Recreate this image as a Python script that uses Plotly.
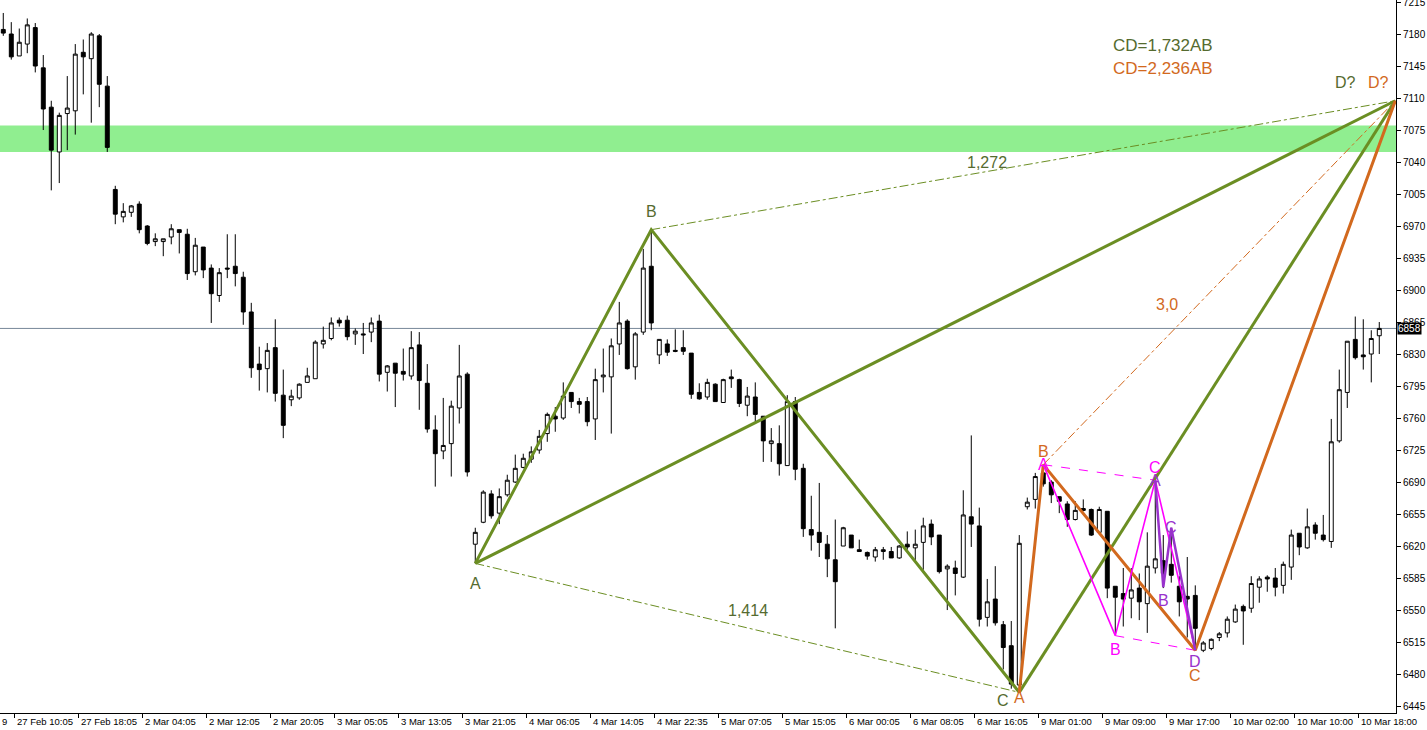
import plotly.graph_objects as go

# ---------------- data ----------------
opens = [7185,7180,7156,7169,7187,7143,7100,7051,7093,7096,7160,7153,7178,7123,7010,6980,6985,6994,6970,6953,
         6953,6958,6966,6961,6920,6947,6924,6894,6924,6926,6914,6876,6819,6814,6837,6785,6780,6782,6799,6803,
         6841,6847,6867,6867,6852,6852,6854,6866,6810,6820,6811,6806,6840,6798,6747,6724,6732,6771,6808,6622,
         6646,6677,6656,6676,6690,6706,6715,6725,6743,6762,6760,6788,6778,6778,6759,6805,6805,6841,6866,6816,
         6854,6926,6829,6841,6834,6837,6831,6788,6783,6797,6777,6805,6802,6774,6783,6762,6732,6732,6708,6778,
         6705,6638,6635,6622,6605,6620,6632,6616,6613,6608,6614,6614,6607,6622,6618,6624,6644,6632,6595,6596,
         6586,6652,6642,6542,6562,6534,6511,6468,6663,6671,6700,6690,6674,6666,6649,6661,6660,6635,6658,6576,
         6568,6563,6574,6557,6596,6604,6600,6576,6565,6566,6506,6508,6520,6525,6537,6554,6552,6575,6586,6585,
         6577,6597,6634,6618,6643,6632,6625,6735,6788,6846,6829,6830,6850]
highs = [7203,7193,7186,7197,7192,7157,7107,7094,7134,7169,7174,7182,7180,7134,7014,6995,6993,6997,6971,6962,
         6956,6972,6966,6967,6957,6947,6928,6924,6961,6961,6920,6886,6838,6842,6868,6813,6791,6798,6815,6845,
         6860,6870,6870,6872,6858,6864,6870,6873,6818,6820,6836,6855,6854,6819,6763,6782,6779,6840,6810,6640,
         6681,6681,6683,6698,6720,6721,6729,6747,6766,6772,6799,6788,6782,6783,6814,6836,6847,6887,6868,6854,
         6945,6966,6846,6846,6857,6856,6831,6798,6803,6798,6803,6813,6803,6794,6799,6762,6749,6752,6785,6783,
         6710,6675,6689,6632,6649,6641,6632,6627,6614,6619,6619,6619,6621,6636,6638,6651,6649,6632,6600,6604,
         6681,6741,6662,6584,6598,6538,6538,6632,6673,6700,6708,6692,6674,6669,6669,6671,6661,6663,6658,6576,
         6596,6596,6590,6635,6692,6632,6640,6587,6608,6577,6516,6519,6526,6543,6556,6556,6587,6587,6588,6596,
         6603,6638,6634,6661,6646,6654,6759,6813,6844,6871,6868,6856,6865]
lows = [7178,7152,7156,7159,7138,7075,7009,7017,7053,7070,7114,7083,7100,7051,6972,6974,6980,6962,6949,6948,
        6937,6950,6940,6911,6916,6913,6864,6887,6913,6904,6862,6804,6790,6788,6778,6738,6773,6780,6799,6803,
        6836,6845,6860,6845,6840,6830,6843,6800,6789,6772,6801,6802,6769,6744,6685,6715,6696,6754,6696,6601,
        6645,6650,6644,6674,6689,6705,6711,6721,6734,6745,6758,6771,6765,6751,6736,6788,6743,6829,6813,6802,
        6851,6856,6819,6828,6832,6829,6781,6780,6780,6778,6777,6793,6772,6762,6756,6712,6712,6697,6708,6692,
        6630,6615,6608,6586,6530,6620,6618,6614,6605,6603,6605,6607,6606,6616,6603,6594,6621,6590,6550,6566,
        6585,6619,6532,6532,6533,6485,6464,6460,6660,6661,6685,6667,6656,6641,6648,6658,6631,6633,6563,6525,
        6532,6541,6539,6525,6590,6574,6580,6543,6520,6506,6504,6506,6516,6520,6536,6512,6547,6558,6570,6565,
        6568,6583,6610,6617,6627,6625,6618,6733,6771,6824,6813,6799,6830]
closes = [7181,7155,7171,7190,7145,7098,7053,7091,7099,7158,7155,7180,7125,7056,6983,6986,6992,6966,6951,6956,
          6956,6967,6963,6918,6949,6922,6896,6919,6923,6918,6876,6815,6813,6834,6787,6752,6784,6797,6806,6843,
          6845,6864,6864,6849,6855,6851,6864,6808,6817,6809,6808,6837,6801,6748,6721,6730,6773,6806,6701,6635,
          6679,6653,6674,6692,6705,6716,6723,6740,6764,6759,6784,6778,6775,6756,6802,6807,6839,6864,6814,6852,
          6924,6864,6846,6832,6833,6833,6786,6781,6799,6778,6802,6803,6776,6784,6764,6735,6735,6710,6778,6704,
          6639,6632,6624,6606,6581,6640,6618,6614,6609,6616,6616,6607,6620,6619,6622,6642,6630,6592,6598,6590,
          6654,6644,6540,6559,6536,6509,6469,6623,6668,6696,6688,6676,6669,6649,6659,6659,6632,6660,6574,6564,
          6562,6572,6559,6598,6606,6590,6588,6559,6562,6530,6514,6518,6524,6540,6551,6549,6579,6584,6584,6575,
          6600,6632,6619,6641,6634,6627,6734,6791,6844,6826,6827,6847,6858]
bar_index = list(range(len(opens)))

x_tick_labels = ["27 Feb 10:05", "27 Feb 18:05", "2 Mar 04:05", "2 Mar 12:05", "2 Mar 20:05",
                 "3 Mar 05:05", "3 Mar 13:05", "3 Mar 21:05", "4 Mar 06:05", "4 Mar 14:05",
                 "4 Mar 22:35", "5 Mar 07:05", "5 Mar 15:05", "6 Mar 00:05", "6 Mar 08:05",
                 "6 Mar 16:05", "9 Mar 01:00", "9 Mar 09:00", "9 Mar 17:00", "10 Mar 02:00",
                 "10 Mar 10:00", "10 Mar 18:00"]
x_tick_pos = [1.34 + 8 * k for k in range(len(x_tick_labels))]
y_ticks = [6445 + 35 * k for k in range(23)]

current_price = 6858
zone_low, zone_high = 7051, 7080

# harmonic pattern points (bar index, price)
green_x = [59, 81, 127, 174]
green_y = [6601, 6966, 6460, 7107]
orange_x = [127, 130, 149, 174]
orange_y = [6460, 6709, 6506, 7107]
magenta_x = [130, 139, 144, 149]
magenta_y = [6709, 6522, 6692, 6506]
purple_x = [144, 145, 146, 149]
purple_y = [6692, 6575, 6640, 6506]

GREEN = "#6B8E23"
GREEN_TXT = "#556B2F"
ORANGE = "#D2691E"
MAGENTA = "#FF00FF"
PURPLE = "#9932CC"
FONT = "Liberation Sans, Arial"

fig = go.Figure()

fig.add_trace(go.Candlestick(
    x=bar_index, open=opens, high=highs, low=lows, close=closes,
    increasing=dict(fillcolor="white", line=dict(color="black", width=1)),
    decreasing=dict(fillcolor="black", line=dict(color="black", width=1)),
    whiskerwidth=0, hoverinfo="skip", showlegend=False))

def line(xs, ys, color, width, dash="solid"):
    fig.add_trace(go.Scatter(x=xs, y=ys, mode="lines", hoverinfo="skip", showlegend=False,
                             line=dict(color=color, width=width, dash=dash)))

# dashed ratio lines
line([green_x[0], green_x[2]], [green_y[0], green_y[2]], GREEN, 1, "dashdot")
line([green_x[1], green_x[3]], [green_y[1], green_y[3]], GREEN, 1, "dashdot")
line([orange_x[1], orange_x[3]], [orange_y[1], orange_y[3]], ORANGE, 1, "dashdot")
line([magenta_x[0], magenta_x[2]], [magenta_y[0], magenta_y[2]], MAGENTA, 1, "dash")
line([magenta_x[1], magenta_x[3]], [magenta_y[1], magenta_y[3]], MAGENTA, 1, "dash")

# solid pattern legs
line(green_x[:3], green_y[:3], GREEN, 3)
line([green_x[0], green_x[3]], [green_y[0], green_y[3]], GREEN, 3)
line(green_x[2:], green_y[2:], GREEN, 3)
line(orange_x, orange_y, ORANGE, 3)
line(magenta_x, magenta_y, MAGENTA, 1.6)
line(purple_x, purple_y, PURPLE, 2.5)

shapes = [
    dict(type="rect", xref="paper", x0=0, x1=1, yref="y", y0=zone_low, y1=zone_high,
         fillcolor="#90EE90", line=dict(width=0), layer="below"),
    dict(type="line", xref="paper", x0=0, x1=1, yref="y", y0=current_price, y1=current_price,
         line=dict(color="#778899", width=1), layer="below"),
]

ann = []
def lab(x, y, text, color, xs=0, ys=0, size=16):
    ann.append(dict(x=x, y=y, xref="x", yref="y", text=text, showarrow=False,
                    font=dict(family=FONT, size=size, color=color),
                    xshift=xs, yshift=ys))

lab(green_x[0], green_y[0], "A", GREEN_TXT, 0, -20)
lab(green_x[1], green_y[1], "B", GREEN_TXT, 0, 18)
lab(green_x[2], green_y[2], "C", GREEN_TXT, -16, -8)
lab(green_x[3], green_y[3], "D?", GREEN_TXT, -50, 18)
lab(orange_x[0], orange_y[0], "A", ORANGE, 0, -5)
lab(orange_x[1], orange_y[1], "B", ORANGE, 0, 13)
lab(orange_x[2], orange_y[2], "C", ORANGE, 0, -25)
lab(orange_x[3], orange_y[3], "D?", ORANGE, -17, 18)
lab(magenta_x[0], magenta_y[0], "A", MAGENTA, 0, 0)
lab(magenta_x[1], magenta_y[1], "B", MAGENTA, 0, -14)
lab(magenta_x[2], magenta_y[2], "C", MAGENTA, 0, 13)
lab(purple_x[0], purple_y[0], "A", PURPLE, 0, 0)
lab(purple_x[1], purple_y[1], "B", PURPLE, 0, -13)
lab(purple_x[2], purple_y[2], "C", PURPLE, 0, 0)
lab(purple_x[3], purple_y[3], "D", PURPLE, 0, -11)
lab(123, 7040, "1,272", GREEN_TXT)
lab(93.1, 6550, "1,414", GREEN_TXT)
lab(145.5, 6884, "3,0", ORANGE)

ann.append(dict(x=138.5, y=7167, xref="x", yref="y", xanchor="left", text="CD=1,732AB", showarrow=False,
                font=dict(family=FONT, size=17, color=GREEN_TXT)))
ann.append(dict(x=138.5, y=7142, xref="x", yref="y", xanchor="left", text="CD=2,236AB", showarrow=False,
                font=dict(family=FONT, size=17, color=ORANGE)))

# x labels (left aligned after tick, like MT4)
for pos, t in zip(x_tick_pos, x_tick_labels):
    ann.append(dict(x=pos, y=0, xref="x", yref="paper", xanchor="left", yanchor="top", text=t,
                    showarrow=False, xshift=1, yshift=-1,
                    font=dict(family=FONT, size=9.5, color="black")))
ann.append(dict(x=0, y=0, xref="paper", yref="paper", xanchor="left", yanchor="top", text="9",
                showarrow=False, yshift=-1, font=dict(family=FONT, size=9.5, color="black")))

# top tick label (partly cut off at the top edge, as in the reference)
ann.append(dict(x=1, y=y_ticks[-1], xref="paper", yref="y", xanchor="left", yanchor="middle",
                text=str(y_ticks[-1]), showarrow=False, xshift=6, borderpad=0,
                font=dict(family=FONT, size=10, color="black")))

# current price box
ann.append(dict(x=1, y=current_price, xref="paper", yref="y", xanchor="left", text=str(current_price),
                showarrow=False, bgcolor="black", borderpad=0, xshift=1,
                font=dict(family=FONT, size=10, color="white")))

fig.update_layout(
    width=1427, height=730,
    margin=dict(l=0, r=31, t=0, b=17),
    paper_bgcolor="white", plot_bgcolor="white",
    shapes=shapes, annotations=ann, showlegend=False,
    xaxis=dict(range=[-0.41, 174.09], showgrid=False, zeroline=False, rangeslider=dict(visible=False),
               tickvals=x_tick_pos, ticks="outside", ticklen=4, tickcolor="black", showticklabels=False,
               showline=True, linecolor="black", linewidth=1),
    yaxis=dict(range=[6437.4, 7217.2], side="right", showgrid=False, zeroline=False,
               tickvals=y_ticks, ticks="outside", ticklen=4, tickcolor="black",
               tickfont=dict(family=FONT, size=10, color="black"),
               showline=True, linecolor="black", linewidth=1),
)

fig.write_html("out.html", config={"displayModeBar": False},
               post_script="document.body.style.margin='0';document.body.style.overflow='hidden';")
